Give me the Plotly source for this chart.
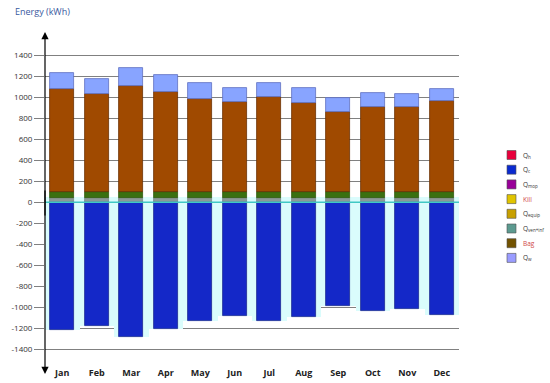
import numpy as np
import plotly.graph_objects as go

months = ["Jan", "Feb", "Mar", "Apr", "May", "Jun", "Jul", "Aug", "Sep", "Oct", "Nov", "Dec"]

# stacked positive layers (kWh)
q_ven_inf = [45, 45, 45, 45, 45, 45, 45, 45, 45, 45, 45, 45]
q_equip = [50, 50, 50, 50, 50, 50, 50, 50, 50, 50, 50, 50]
bag = [980, 939, 1008, 951, 893, 859, 904, 847, 762, 812, 809, 866]
q_w = [153, 144, 179, 170, 149, 136, 141, 148, 141, 132, 123, 116]
# negative (cooling)
q_c = [-1220, -1175, -1280, -1210, -1132, -1078, -1135, -1088, -985, -1033, -1018, -1076]
band_top = 50

y_ticks = [-1400, -1200, -1000, -800, -600, -400, -200, 0, 200, 400, 600, 800, 1000, 1200, 1400]

legend_names = ["Q<sub>h</sub>", "Q<sub>c</sub>", "Q<sub>mop</sub>", "Kill",
                "Q<sub>equip</sub>", "Q<sub>ven+inf</sub>", "Bag", "Q<sub>w</sub>"]
legend_colors = ["#e8003c", "#0a2ad0", "#990099", "#e0c400",
                 "#c8a000", "#5c9a90", "#725200", "#9a9cff"]
legend_text_colors = ["#333333", "#333333", "#333333", "#d04848",
                      "#333333", "#333333", "#d04848", "#333333"]

W, H = 550, 383
ML, MR, MT, MB = 45, 91, 32, 17
PW, PH = W - ML - MR, H - MT - MB


def px_to_paper(px, py):
    return (px - ML) / PW, (H - MB - py) / PH


x = np.arange(len(months))
fig = go.Figure()

qc = np.array(q_c)
fig.add_trace(go.Bar(x=x, y=band_top - qc, base=qc, width=1.0,
                     marker=dict(color="#dafcfc", line=dict(width=0)),
                     showlegend=False, hoverinfo="skip"))

fig.add_trace(go.Bar(x=x, y=-qc, base=qc, width=0.7,
                     marker=dict(color="#1428c8", line=dict(color="#1a2a90", width=0.8)),
                     showlegend=False))

layers = [
    (q_ven_inf, "#8c9898", "#7a8888"),
    (q_equip, "#3a7010", "#2e5a0c"),
    (bag, "#a04a00", "#6a3000"),
    (q_w, "#88a4ff", "#6070c0"),
]
base = np.zeros(len(months))
for vals, col, lcol in layers:
    v = np.array(vals, dtype=float)
    fig.add_trace(go.Bar(x=x, y=v, base=base.copy(), width=0.7,
                         marker=dict(color=col, line=dict(color=lcol, width=0.8)),
                         showlegend=False))
    base = base + v

# teal zero line over the bars
fig.add_shape(type="line", xref="paper", yref="y", x0=0, x1=1, y0=0, y1=0,
              line=dict(color="#40c8c4", width=1.6), layer="above")

# y axis with arrows at both ends
_, ybot = px_to_paper(0, 374)
for tip_y, ay in [(1.0, 185), (ybot, -185)]:
    fig.add_annotation(x=0, xref="paper", y=tip_y, yref="paper", ax=0, ay=ay,
                       showarrow=True, arrowhead=2, arrowsize=1.2, arrowwidth=1.2,
                       arrowcolor="#000000", text="")

tx, ty = px_to_paper(13, 12)
fig.add_annotation(text="Energy (kWh)", xref="paper", yref="paper", x=tx, y=ty,
                   xanchor="left", yanchor="middle", showarrow=False,
                   font=dict(family="Open Sans", size=9, color="#3a5aa0"))

# manual legend
for i, (name, col, tcol) in enumerate(zip(legend_names, legend_colors, legend_text_colors)):
    cy = 155 + 14.7 * i
    x0, y0 = px_to_paper(507, cy - 4.5)
    x1, y1 = px_to_paper(516, cy + 4.5)
    fig.add_shape(type="rect", xref="paper", yref="paper", x0=x0, x1=x1, y0=y1, y1=y0,
                  fillcolor=col, line=dict(color="#505050", width=0.6))
    lx, ly = px_to_paper(521, cy)
    fig.add_annotation(text=name, xref="paper", yref="paper", x=lx, y=ly,
                       xanchor="left", yanchor="middle", showarrow=False,
                       font=dict(family="Open Sans", size=6.5, color=tcol))

fig.update_layout(
    width=W, height=H,
    margin=dict(l=ML, r=MR, t=MT, b=MB, autoexpand=False),
    barmode="overlay", bargap=0,
    plot_bgcolor="white", paper_bgcolor="white",
    font=dict(family="Open Sans", size=8, color="#333333"),
    showlegend=False,
)
fig.update_xaxes(range=[-0.5, 11.5], tickvals=list(x), ticktext=[f"<b>{m}</b>" for m in months],
                 showgrid=False, zeroline=False, showline=False, ticks="",
                 tickfont=dict(family="Open Sans", size=9, color="#222222"), automargin=False)
fig.update_yaxes(range=[-1559, 1622], tickvals=y_ticks, ticktext=[str(v) for v in y_ticks],
                 showgrid=True, gridcolor="#808080", gridwidth=1, zeroline=False,
                 showline=False, ticks="outside", ticklen=10, tickcolor="#808080",
                 tickfont=dict(family="Open Sans", size=8, color="#333333"), automargin=False)

fig.write_html("out.html", config={"displayModeBar": False},
               post_script="document.body.style.margin='0';document.body.style.overflow='hidden';")
